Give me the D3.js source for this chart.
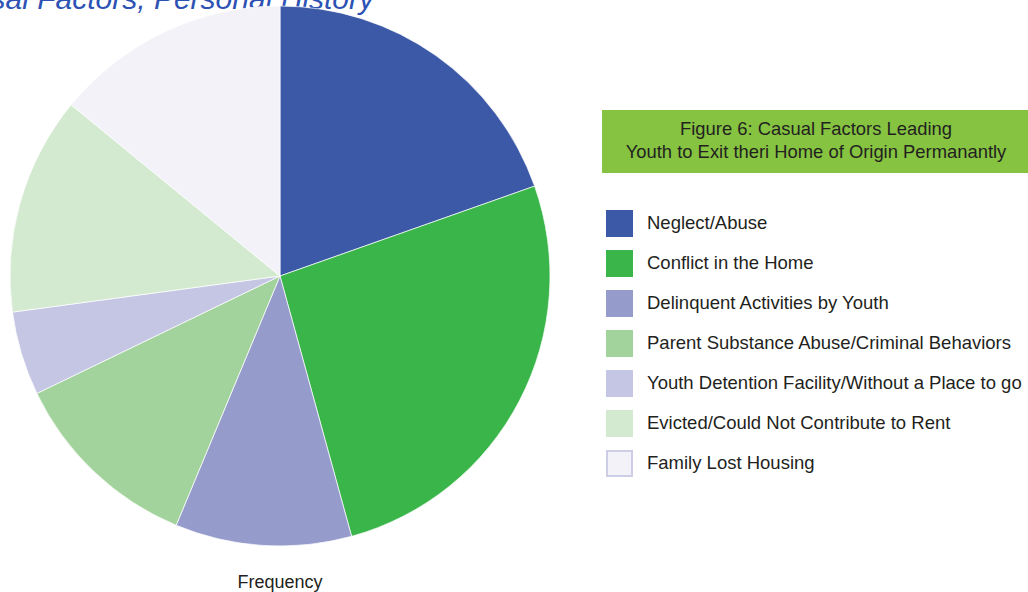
<!DOCTYPE html>
<html>
<head>
<meta charset="utf-8">
<script src="https://cdn.jsdelivr.net/npm/d3@7"></script>
<style>
  html, body { margin: 0; padding: 0; background: #fff; }
  svg { display: block; font-family: "Liberation Sans", Arial, Helvetica, sans-serif; }
</style>
</head>
<body>
<svg id="chart" width="1028" height="592"></svg>
<script>
// Causal factors that led youth to leave their home of origin
const categories = [
  "Neglect/Abuse",
  "Conflict in the Home",
  "Delinquent Activities by Youth",
  "Parent Substance Abuse/Criminal Behaviors",
  "Youth Detention Facility/Without a Place to go",
  "Evicted/Could Not Contribute to Rent",
  "Family Lost Housing"
];
const frequency = [39, 52, 21, 23, 10, 26, 28];
const colors = ["#3c59a8", "#3ab54a", "#959bcb", "#a3d39c", "#c5c6e4", "#d3ead0", "#f2f2f8"];
const boxTitle = ["Figure 6: Casual Factors Leading", "Youth to Exit theri Home of Origin Permanantly"];

const svg = d3.select("#chart");

// Section heading (runs off the top of the page)
svg.append("text")
  .attr("x", 374).attr("y", 9)
  .attr("text-anchor", "end")
  .style("font-size", "30px")
  .style("font-style", "italic")
  .style("fill", "#2d52b4")
  .text("Causal Factors, Personal History");

// Pie
const cx = 280, cy = 276, radius = 270;
const data = categories.map((c, i) => ({ name: c, value: frequency[i] }));
const pie = d3.pie().value(d => d.value).sort(null).startAngle(0).endAngle(2 * Math.PI);
const arc = d3.arc().innerRadius(0).outerRadius(radius);
const color = d3.scaleOrdinal().domain(categories).range(colors);

svg.append("g")
  .attr("transform", `translate(${cx},${cy})`)
  .selectAll("path")
  .data(pie(data))
  .join("path")
  .attr("d", arc)
  .attr("fill", d => color(d.data.name))
  .attr("stroke", "#ffffff")
  .attr("stroke-width", 0.7)
  .attr("stroke-linejoin", "round");

// Caption under the pie
svg.append("text")
  .attr("x", cx).attr("y", 588)
  .attr("text-anchor", "middle")
  .style("font-size", "18px")
  .style("fill", "#231f20")
  .text("Frequency");

// Legend heading box
const boxX = 602, boxY = 110, boxW = 430, boxH = 63;
svg.append("rect")
  .attr("x", boxX).attr("y", boxY)
  .attr("width", boxW).attr("height", boxH)
  .attr("fill", "#85c341");
svg.append("text")
  .attr("x", 816).attr("y", 135)
  .attr("text-anchor", "middle")
  .style("font-size", "18.4px")
  .style("fill", "#231f20")
  .selectAll("tspan")
  .data(boxTitle)
  .join("tspan")
  .attr("x", 816)
  .attr("dy", (d, i) => i === 0 ? 0 : 23)
  .text(d => d);

// Legend entries
const legend = svg.append("g").attr("transform", "translate(606,210)");
const item = legend.selectAll("g")
  .data(categories)
  .join("g")
  .attr("transform", (d, i) => `translate(0,${i * 40})`);

item.append("rect")
  .attr("x", d => d === "Family Lost Housing" ? 1 : 0)
  .attr("y", d => d === "Family Lost Housing" ? 1 : 0)
  .attr("width", d => d === "Family Lost Housing" ? 25 : 27)
  .attr("height", d => d === "Family Lost Housing" ? 25 : 27)
  .attr("fill", d => color(d))
  .attr("stroke", d => d === "Family Lost Housing" ? "#cdcde6" : "none")
  .attr("stroke-width", 2);

item.append("text")
  .attr("x", 41).attr("y", 19)
  .style("font-size", "18.5px")
  .style("fill", "#231f20")
  .text(d => d);
</script>
</body>
</html>
